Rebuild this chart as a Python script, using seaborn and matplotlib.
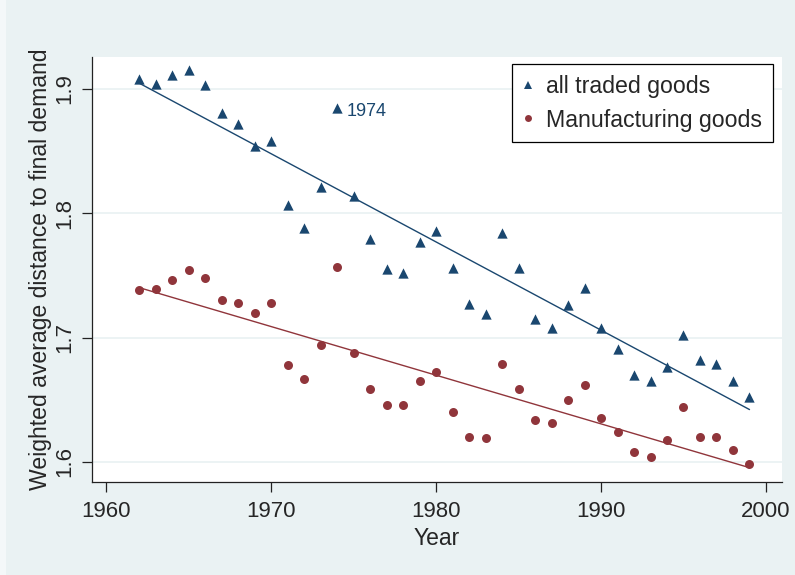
import numpy as np
import pandas as pd
import matplotlib
matplotlib.use("Agg")
import matplotlib.pyplot as plt
from matplotlib.lines import Line2D
from matplotlib.patches import Rectangle
import seaborn as sns

sns.set_style("white")
plt.rcParams["font.family"] = ["Liberation Sans", "DejaVu Sans"]

years = list(range(1962, 2000))

all_traded = [1.908, 1.904, 1.911, 1.915, 1.903, 1.881, 1.872, 1.854, 1.858, 1.807,
              1.788, 1.821, 1.885, 1.814, 1.779, 1.755, 1.752, 1.777, 1.786, 1.756,
              1.727, 1.719, 1.784, 1.756, 1.715, 1.708, 1.726, 1.740, 1.708, 1.691,
              1.670, 1.665, 1.676, 1.702, 1.682, 1.679, 1.665, 1.652]

manufacturing = [1.738, 1.739, 1.746, 1.754, 1.748, 1.730, 1.728, 1.720, 1.728, 1.678,
                 1.667, 1.694, 1.757, 1.688, 1.659, 1.646, 1.646, 1.665, 1.672, 1.640,
                 1.620, 1.619, 1.679, 1.659, 1.634, 1.631, 1.650, 1.662, 1.635, 1.624,
                 1.608, 1.604, 1.618, 1.644, 1.620, 1.620, 1.610, 1.598]

series_labels = ["all traded goods", "Manufacturing goods"]
x_ticks = [1960, 1970, 1980, 1990, 2000]
y_ticks = [1.6, 1.7, 1.8, 1.9]
highlight_year = 1974

navy = "#1A476F"
maroon = "#90353B"
bg = "#EAF2F3"

df = pd.DataFrame({"Year": years, "all": all_traded, "manuf": manufacturing})

fig = plt.figure(figsize=(7.95, 5.75), dpi=100, facecolor=bg)
fig.patches.append(Rectangle((0, 0), 6 / 795, 1, transform=fig.transFigure,
                             facecolor="#F4F8F9", edgecolor="none", zorder=0))
ax = fig.add_axes([92 / 795, (575 - 482) / 575, 690 / 795, 425 / 575])
ax.set_facecolor("white")

# fitted lines
sns.regplot(data=df, x="Year", y="all", scatter=False, ci=None, ax=ax,
            line_kws={"color": navy, "lw": 1.0, "zorder": 2})
sns.regplot(data=df, x="Year", y="manuf", scatter=False, ci=None, ax=ax,
            line_kws={"color": maroon, "lw": 1.0, "zorder": 2})

# observations
sns.scatterplot(data=df, x="Year", y="all", marker="^", s=55, color=navy,
                linewidth=0, ax=ax, zorder=3)
sns.scatterplot(data=df, x="Year", y="manuf", marker="o", s=42, color=maroon,
                linewidth=0, ax=ax, zorder=3)

hi = df[df["Year"] == highlight_year].iloc[0]
ax.annotate(str(highlight_year), xy=(hi["Year"], hi["all"]), xytext=(7, -3),
            textcoords="offset points", ha="left", va="center",
            fontsize=13, color=navy)

ax.set_xlim(1959.15, 2000.97)
ax.set_ylim(1.5839, 1.9257)
ax.set_xticks(x_ticks)
ax.set_yticks(y_ticks)
ax.set_yticklabels([f"{v:.1f}" for v in y_ticks], rotation=90, va="center")
ax.tick_params(axis="both", direction="out", length=7, width=0.9, color="#222222",
               labelsize=16, left=True, bottom=True)
ax.tick_params(axis="x", pad=7)
ax.tick_params(axis="y", pad=5)

ax.grid(axis="y", color=bg, lw=1.3)
ax.grid(axis="x", visible=False)
ax.set_axisbelow(True)
for side in ["top", "right"]:
    ax.spines[side].set_visible(False)
for side in ["left", "bottom"]:
    ax.spines[side].set_color("#222222")
    ax.spines[side].set_linewidth(0.9)

ax.set_xlabel("Year", fontsize=16.5, labelpad=3)
ax.set_ylabel("Weighted average distance to final demand", fontsize=16.6, labelpad=2)

handles = [
    Line2D([], [], marker="^", color=navy, ls="none", markersize=5.5, markeredgewidth=0),
    Line2D([], [], marker="o", color=maroon, ls="none", markersize=5, markeredgewidth=0),
]
leg = ax.legend(handles, series_labels, loc="upper right",
                bbox_to_anchor=(0.987, 0.9835), borderaxespad=0, fontsize=16.7,
                frameon=True, fancybox=False, edgecolor="black", framealpha=1,
                handlelength=0.4, handletextpad=0.6, labelspacing=0.46,
                borderpad=0.47)
leg.get_frame().set_linewidth(0.9)

fig.savefig("out.png", dpi=100, facecolor=bg)
